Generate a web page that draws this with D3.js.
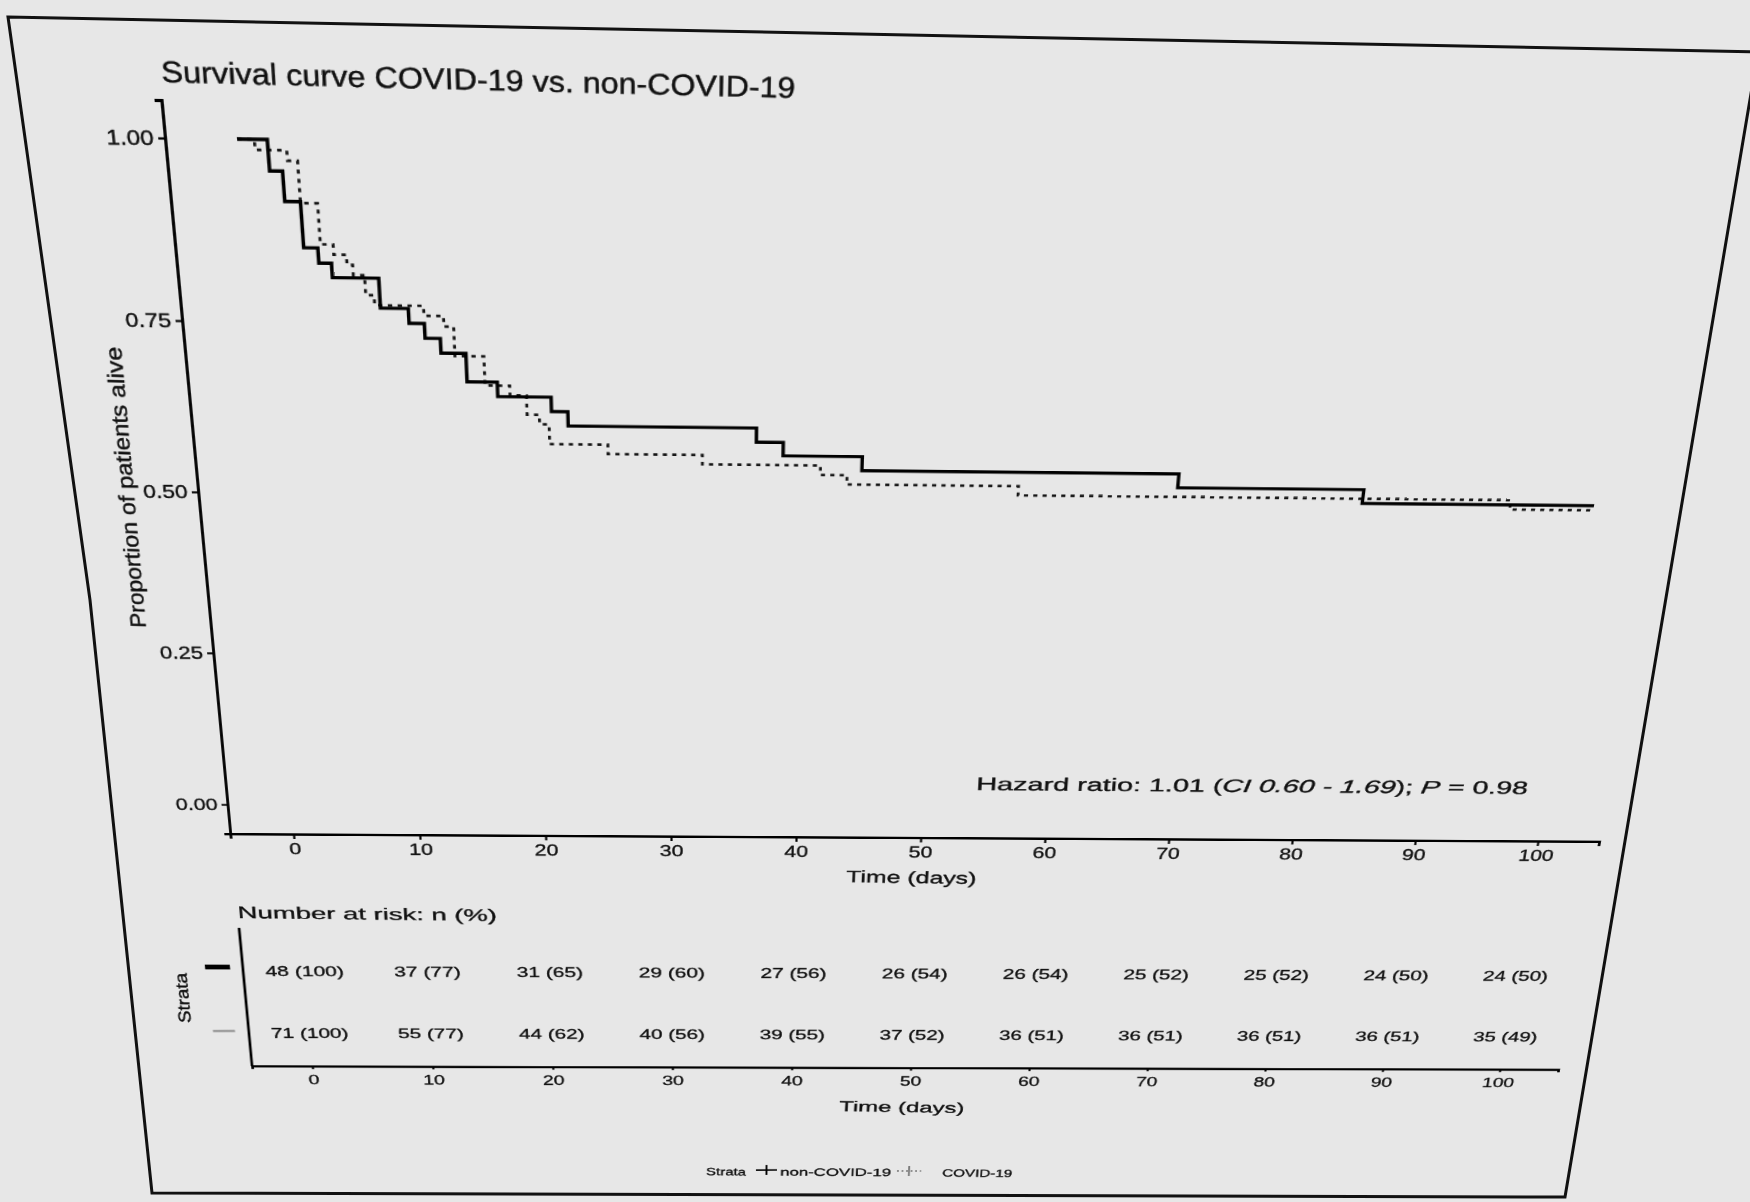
<!DOCTYPE html>
<html><head><meta charset="utf-8">
<script src="https://cdn.jsdelivr.net/npm/d3@7"></script>
<style>
html,body{margin:0;padding:0;}
body{width:1750px;height:1202px;overflow:hidden;background:#e7e7e7;position:relative;}
#warp{position:absolute;left:0;top:0;width:1800px;height:1500px;transform-origin:0 0;}
#warp svg{overflow:visible;display:block;}
#overlay{position:absolute;left:0;top:0;}
text{font-family:"Liberation Sans",Arial,Helvetica,sans-serif;fill:#111;stroke:#111;stroke-width:0.4px;}
</style></head><body>
<div id="warp"><svg id="chart" width="1800" height="1500"></svg></div>
<svg id="overlay" width="1750" height="1202"></svg>
<script>
// ================= DATA =================
const timeTicks = [0,10,20,30,40,50,60,70,80,90,100];
const survTicks = [0,0.25,0.5,0.75,1];
// non-COVID-19 (solid) Kaplan-Meier steps
const nonCovidTime = [0,2.1,3.0,4.1,5.1,6.0,9.3,11.3,12.4,13.5,15.3,17.5,21.4,22.6,36.5,38.5,44.4,68.2,82.3,100];
const nonCovidSurv = [1.000,0.958,0.917,0.854,0.833,0.813,0.771,0.750,0.729,0.708,0.667,0.646,0.625,0.604,0.583,0.563,0.542,0.521,0.500,0.500];
// COVID-19 (dotted) Kaplan-Meier steps
const covidTime = [0,1.2,3.4,4.1,5.3,6.2,7.1,7.5,8.3,8.9,12.4,13.8,14.5,16.6,18.4,19.6,20.5,21.2,25.5,32.5,41.3,43.3,56.2,93.6,100];
const covidSurv = [1.000,0.986,0.972,0.915,0.859,0.845,0.831,0.817,0.789,0.775,0.761,0.746,0.704,0.662,0.648,0.620,0.606,0.577,0.563,0.549,0.535,0.521,0.507,0.493,0.493];
// number at risk
const riskTimes = [0,10,20,30,40,50,60,70,80,90,100];
const riskNonCovidN = [48,37,31,29,27,26,26,25,25,24,24];
const riskNonCovidPct = [100,77,65,60,56,54,54,52,52,50,50];
const riskCovidN = [71,55,44,40,39,37,36,36,36,36,35];
const riskCovidPct = [100,77,62,56,55,52,51,51,51,51,49];
const strata = ["non-COVID-19","COVID-19"];
const titleText = "Survival curve COVID-19 vs. non-COVID-19";
const yLabel = "Proportion of patients alive";
const xLabel = "Time (days)";
const riskTitle = "Number at risk: n (%)";

// ================= LAYOUT (flat chart plane) =================
const xScale = d3.scaleLinear().domain([-5,105]).range([240,1648]);
const yScale = d3.scaleLinear().domain([-0.05,1.05]).range([912,120]);

// calibration of the photographed (tilted) page: [t, S, photoX, photoY]
const calib = [
  [0,1,236.7,136],[-5,1,164,136],[-5,0.75,185,322],[-5,0.5,198.3,495],[-5,0.25,213.3,654],[-5,0,226.7,804],
  [0,-0.05,294,834],[10,-0.05,420,835],[20,-0.05,545,835.5],[60,-0.05,1042,838],[70,-0.05,1167,838.5],
  [80,-0.05,1293,839],[90,-0.05,1418,839.5],[100,-0.05,1540,840],[100,0.5,1592,509]
];

function solve(N, r){
  const n=r.length; const M=N.map((row,i)=>row.concat([r[i]]));
  for(let c=0;c<n;c++){
    let p=c; for(let k=c+1;k<n;k++) if(Math.abs(M[k][c])>Math.abs(M[p][c])) p=k;
    [M[c],M[p]]=[M[p],M[c]];
    for(let k=0;k<n;k++){ if(k===c) continue; const f=M[k][c]/M[c][c]; for(let j=c;j<=n;j++) M[k][j]-=f*M[c][j]; }
  }
  return M.map((row,i)=>row[n]/row[i]);
}
function fitH(pairs){
  const s=1/1000; const A=[], b=[];
  pairs.forEach(([src,dst])=>{
    const u=src[0]*s, v=src[1]*s, x=dst[0]*s, y=dst[1]*s;
    A.push([u,v,1,0,0,0,-u*x,-v*x]); b.push(x);
    A.push([0,0,0,u,v,1,-u*y,-v*y]); b.push(y);
  });
  const N=Array.from({length:8},()=>Array(8).fill(0)), r=Array(8).fill(0);
  for(let k=0;k<A.length;k++) for(let i=0;i<8;i++){ r[i]+=A[k][i]*b[k]; for(let j=0;j<8;j++) N[i][j]+=A[k][i]*A[k][j]; }
  const h=solve(N,r);
  return [h[0],h[1],h[2]/s, h[3],h[4],h[5]/s, h[6]*s,h[7]*s,1];
}
function inv3(m){
  const [a,b,c,d,e,f,g,h,i]=m;
  const A=e*i-f*h, B=-(d*i-f*g), C=d*h-e*g, det=a*A+b*B+c*C;
  return [A/det,-(b*i-c*h)/det,(b*f-c*e)/det, B/det,(a*i-c*g)/det,-(a*f-c*d)/det, C/det,-(a*h-b*g)/det,(a*e-b*d)/det];
}
function applyH(m,p){const w=m[6]*p[0]+m[7]*p[1]+m[8];return [(m[0]*p[0]+m[1]*p[1]+m[2])/w,(m[3]*p[0]+m[4]*p[1]+m[5])/w];}

const Hm = fitH(calib.map(c=>[[xScale(c[0]),yScale(c[1])],[c[2],c[3]]]));
const Hi = inv3(Hm);
const toIdeal = p=>applyH(Hi,p);
d3.select('#warp').style('transform',
  `matrix3d(${Hm[0]},${Hm[3]},0,${Hm[6]},${Hm[1]},${Hm[4]},0,${Hm[7]},0,0,1,0,${Hm[2]},${Hm[5]},0,${Hm[8]})`);

// ================= DRAW =================
const svg = d3.select('#chart');
const g = svg.append('g');

function widen(sel,f){ sel.each(function(){ const L=this.getComputedTextLength(); this.setAttribute('textLength',L*f); this.setAttribute('lengthAdjust','spacingAndGlyphs'); }); }
function placeText(parent,p0,p1,size,build){
  const a=toIdeal(p0), b=toIdeal(p1);
  const ang=Math.atan2(b[1]-a[1],b[0]-a[0])*180/Math.PI;
  const len=Math.hypot(b[0]-a[0],b[1]-a[1]);
  const t=parent.append('text').attr('transform',`translate(${a[0]},${a[1]}) rotate(${ang})`)
    .attr('font-size',size).attr('textLength',len).attr('lengthAdjust','spacingAndGlyphs');
  if(typeof build==='string') t.text(build); else build(t);
  return t;
}
function styleAxis(a,fs,wf){
  a.select('.domain').attr('stroke','#000').attr('stroke-width',2.8);
  a.selectAll('.tick line').attr('stroke','#000').attr('stroke-width',2.2);
  const tx=a.selectAll('.tick text').attr('font-size',fs);
  widen(tx,wf);
}

// main axes
const gy = g.append('g').attr('transform',`translate(${xScale(-5)},0)`)
  .call(d3.axisLeft(yScale).tickValues(survTicks).tickFormat(d3.format('.2f')).tickSizeOuter(0).tickSize(6).tickPadding(4));
styleAxis(gy,20,1.08);
const gx = g.append('g').attr('transform',`translate(0,${yScale(-0.05)})`)
  .call(d3.axisBottom(xScale).tickValues(timeTicks).tickSizeOuter(0).tickSize(6).tickPadding(5));
styleAxis(gx,20,1.1);

// curves
const line = d3.line().x(d=>xScale(d[0])).y(d=>yScale(d[1])).curve(d3.curveStepAfter);
g.append('path').datum(d3.zip(covidTime,covidSurv)).attr('d',line)
  .attr('fill','none').attr('stroke','#151515').attr('stroke-width',2.7).attr('stroke-dasharray','4,5');
g.append('path').datum(d3.zip(nonCovidTime,nonCovidSurv)).attr('d',line)
  .attr('fill','none').attr('stroke','#000').attr('stroke-width',3.3);

// titles / labels
placeText(g,[162,82],[795,98],28,titleText);
placeText(g,[146,628],[121,347],21,yLabel);
placeText(g,[846,882],[976,884],21,xLabel);
placeText(g,[976,790],[1527,794],22,t=>{
  t.append('tspan').text('Hazard ratio: 1.01 (');
  t.append('tspan').attr('font-style','italic').text('CI 0.60 - 1.69');
  t.append('tspan').text('); ');
  t.append('tspan').attr('font-style','italic').text('P');
  t.append('tspan').text(' = 0.98');
});

// risk table
placeText(g,[238,918],[497,921],21,riskTitle);
const riskTopY = toIdeal([240,928])[1];
const riskAxisY = toIdeal([251.7,1066])[1];
const rowY = [toIdeal([301.7,971])[1], toIdeal([307,1033])[1]];
const gr = g.append('g').attr('transform',`translate(0,${riskAxisY})`)
  .call(d3.axisBottom(xScale).tickValues(riskTimes).tickSizeOuter(0).tickSize(4).tickPadding(7));
styleAxis(gr,19,1.1);
g.append('line').attr('x1',xScale(-5)).attr('x2',xScale(-5)).attr('y1',riskTopY).attr('y2',riskAxisY)
  .attr('stroke','#000').attr('stroke-width',2.8);
const rows=[{n:riskNonCovidN,p:riskNonCovidPct},{n:riskCovidN,p:riskCovidPct}];
rows.forEach((r,i)=>{
  const tx = g.append('g').selectAll('text').data(riskTimes).enter().append('text')
    .attr('x',d=>xScale(d)).attr('y',rowY[i]).attr('dy','0.36em').attr('text-anchor','middle')
    .attr('font-size',18).text((d,j)=>`${r.n[j]} (${r.p[j]})`);
  widen(tx,1.22);
});
// strata keys in risk table
const keyStyle=[{c:'#000',w:6,p0:[205,967],p1:[230,967]},{c:'#9a9a9a',w:3,p0:[213,1031],p1:[235,1031]}];
keyStyle.forEach(k=>{
  const a=toIdeal(k.p0), b=toIdeal(k.p1);
  g.append('line').attr('x1',a[0]).attr('y1',a[1]).attr('x2',b[0]).attr('y2',b[1]).attr('stroke',k.c).attr('stroke-width',k.w);
});
placeText(g,[191,1023],[186.5,973],18,'Strata');
placeText(g,[839,1111],[964,1113],20,xLabel);

// bottom legend
placeText(g,[706,1175],[746,1175.5],15,'Strata');
const legendKeys=[
  {label:strata[0],c:'#000',dash:null,l0:[756,1170],l1:[777,1170],t0:[780,1175.5],t1:[891,1176]},
  {label:strata[1],c:'#777',dash:'2,3',l0:[897,1171],l1:[921,1171],t0:[942,1176.5],t1:[1012,1177]}
];
legendKeys.forEach(k=>{
  const a=toIdeal(k.l0), b=toIdeal(k.l1);
  const ln=g.append('line').attr('x1',a[0]).attr('y1',a[1]).attr('x2',b[0]).attr('y2',b[1]).attr('stroke',k.c).attr('stroke-width',2);
  if(k.dash) ln.attr('stroke-dasharray',k.dash);
  const mx=(a[0]+b[0])/2, my=(a[1]+b[1])/2;
  g.append('line').attr('x1',mx).attr('x2',mx).attr('y1',my-7).attr('y2',my+7).attr('stroke',k.c).attr('stroke-width',2);
  placeText(g,k.t0,k.t1,15,k.label);
});

// page frame of the photographed figure
d3.select('#overlay').append('path')
  .attr('d','M8,17 L1758,52 L1565,1197 L152,1193 L90,600 Z')
  .attr('fill','none').attr('stroke','#111').attr('stroke-width',3);
</script></body></html>
